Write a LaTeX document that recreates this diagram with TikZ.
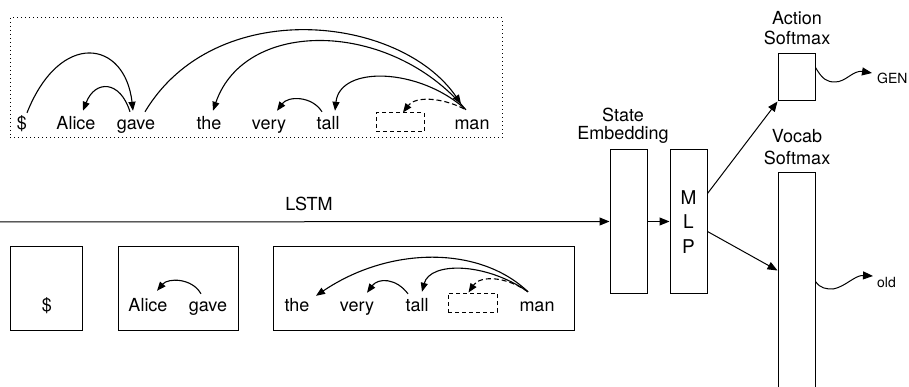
\documentclass[tikz,border=0pt]{standalone}
\usepackage{fontspec}
\setmainfont{TeX Gyre Heros}
\usetikzlibrary{arrows.meta,calc}
\begin{document}
\begin{tikzpicture}[x=1pt,y=-1pt,
  word/.style={font=\fontsize{18}{20}\selectfont, inner xsep=0pt, inner ysep=6pt, text height=13pt, text depth=4pt, anchor=base},
  lab/.style={font=\fontsize{18}{20}\selectfont, inner sep=0pt, anchor=base},
  small/.style={font=\fontsize{14}{16}\selectfont, inner sep=0pt, anchor=base west},
  box/.style={draw, line width=1pt, inner sep=0pt},
  dbox/.style={draw, line width=1pt, inner sep=0pt, dash pattern=on 4pt off 3pt, minimum width=48pt, minimum height=19pt},
  arc/.style={line width=1.1pt, -{Triangle[length=9pt,width=7pt]}},
  darc/.style={arc, dash pattern=on 5pt off 3pt},
  arr/.style={line width=1pt, -{Triangle[length=10pt,width=8pt]}}]
\useasboundingbox (0,0) rectangle (909,387);
\clip (0,0) rectangle (909,387);

% top dotted box
\node[draw, line width=1pt, dash pattern=on 1pt off 3pt, minimum width=492pt, minimum height=120pt, inner sep=0pt] (top) at (256,78) {};
\node[word] (d1) at (22,130) {\$};
\node[word] (alice1) at (76,130) {Alice};
\node[word] (gave1) at (136,130) {gave};
\node[word] (the1) at (209,130) {the};
\node[word] (very1) at (269,130) {very};
\node[word] (tall1) at (328,130) {tall};
\node[dbox] (tb1) at (400,122.5) {};
\node[word] (man1) at (472,130) {man};

\draw[arc] ($(d1.north)+(5,2)$) .. controls +(33,-83) and +(-8,-71) .. ($(gave1.north)+(-3,0)$);
\draw[arc] ($(gave1.north)+(-6,1)$) .. controls +(-10,-32) and +(12,-31) .. ($(alice1.north)+(7,0)$);
\draw[arc] ($(gave1.north)+(9,1)$) .. controls +(70,-117) and +(-61,-89) .. ($(man1.north)+(-11,-7)$);
\draw[arc] ($(man1.north)+(-7,-2)$) .. controls +(-75,-89) and +(32,-93) .. ($(the1.north)+(4,0)$);
\draw[arc] ($(man1.north)+(-6,-1)$) .. controls +(-46,-42) and +(5,-46) .. ($(tall1.north)+(7,0)$);
\draw[darc] ($(man1.north)+(-8,-2)$) .. controls +(-24,-12) and +(12,-16) .. ($(tb1.north)+(3,0)$);
\draw[arc] ($(tall1.north)+(-6,1)$) .. controls +(-10,-16) and +(11,-15) .. ($(very1.north)+(8,0)$);

% LSTM
\coordinate (l0) at (0,222);
\node[lab] (lstm) at (309,211) {LSTM};

% bottom boxes
\node[box, minimum width=72pt, minimum height=84pt] (bx1) at (46,288) {};
\node[box, minimum width=120pt, minimum height=84pt] (bx2) at (178,288) {};
\node[box, minimum width=301pt, minimum height=84pt] (bx3) at (423.5,288) {};
\node[word] (d2) at (47,311) {\$};
\node[word] (alice2) at (148,311) {Alice};
\node[word] (gave2) at (208,311) {gave};
\node[word] (the3) at (297,311) {the};
\node[word] (very3) at (357,311) {very};
\node[word] (tall3) at (417,311) {tall};
\node[dbox, minimum width=49pt] (tb3) at (472.5,302.5) {};
\node[word] (man3) at (537,311) {man};

\draw[arc] ($(gave2.north)+(-7,2)$) .. controls +(-9,-16) and +(11,-13) .. ($(alice2.north)+(9,-1)$);
\draw[arc] ($(man3.north)+(-9,0)$) .. controls +(-48,-46) and +(74,-50) .. ($(the3.north)+(19,4)$);
\draw[arc] ($(man3.north)+(-9,0)$) .. controls +(-43,-30) and +(8,-30) .. ($(tall3.north)+(5,0)$);
\draw[darc] ($(man3.north)+(-9,0)$) .. controls +(-23,-16) and +(11.5,-17) .. ($(tb3.north)+(-4,0)$);
\draw[arc] ($(tall3.north)+(-9,2)$) .. controls +(-12,-16) and +(11,-15) .. ($(very3.north)+(10,1)$);

% state embedding and MLP
\node[box, minimum width=37pt, minimum height=143pt] (se) at (628.5,221.5) {};
\node[lab] (se1) at (623,122) {State};
\node[lab] (se2) at (623,140) {Embedding};
\node[box, minimum width=37pt, minimum height=143pt] (mlp) at (688.5,221.5) {};
\node[lab, font=\fontsize{19}{20}\selectfont] (m1) at (688.5,205) {M};
\node[lab, font=\fontsize{19}{20}\selectfont] (m2) at (688.5,229) {L};
\node[lab, font=\fontsize{19}{20}\selectfont] (m3) at (688.5,253) {P};

\draw[arr] (l0) -- (se.west);
\draw[arr] (se.east) -- (mlp.west);

% softmaxes
\node[box, minimum width=37pt, minimum height=47pt] (act) at (796.5,77.5) {};
\node[lab] (a1) at (797,25) {Action};
\node[lab] (a2) at (797,45) {Softmax};
\node[box, minimum width=37pt, minimum height=240pt] (voc) at (796.5,293) {};
\node[lab] (v1) at (797,143) {Vocab};
\node[lab] (v2) at (797,165) {Softmax};

\draw[arr] ($(mlp.north east)+(0,44)$) -- (act.south west);
\draw[arr] ($(mlp.north east)+(0,82)$) -- ($(voc.north west)+(0,98)$);

\node[small] (gen) at (877,84) {GEN};
\node[small] (old) at (877,287) {old};
\draw[arr] ($(act.north east)+(0,14)$) .. controls +(7,12) and +(-8,0) .. (835,82) .. controls +(11,0) and +(-19,-3) .. ($(gen.base west)+(-5,-11)$);
\draw[arr] ($(voc.north east)+(0,109)$) .. controls +(5,7) and +(-7,0) .. (833,289) .. controls +(12,-2) and +(-18,-1) .. ($(old.base west)+(-4,-11)$);
\end{tikzpicture}
\end{document}
